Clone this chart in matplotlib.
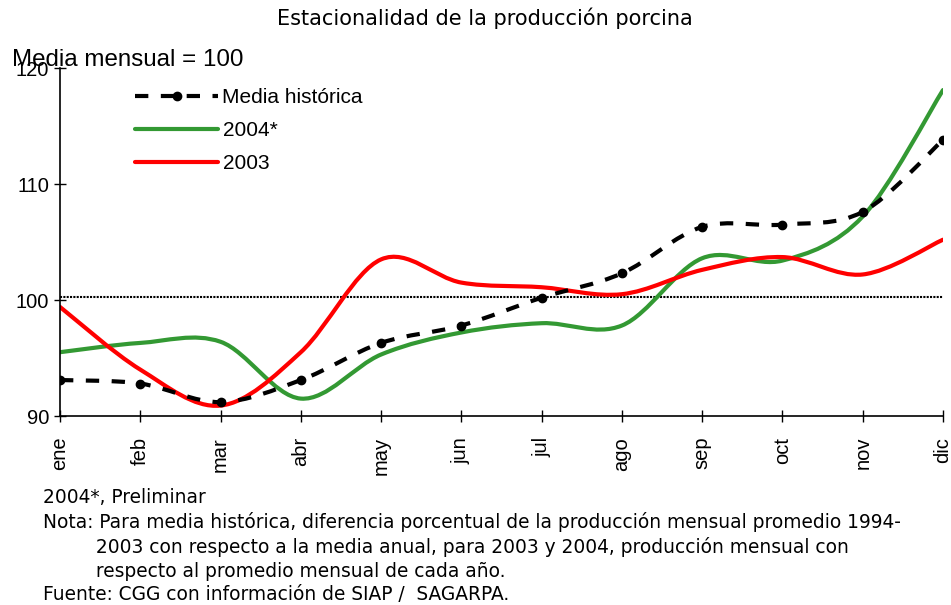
import matplotlib
matplotlib.use("Agg")
import matplotlib.pyplot as plt
from matplotlib.path import Path
from matplotlib.patches import PathPatch
from matplotlib.lines import Line2D
import numpy as np

meses = ['ene', 'feb', 'mar', 'abr', 'may', 'jun', 'jul', 'ago', 'sep', 'oct', 'nov', 'dic']
media_hist = [93.1, 92.8, 91.2, 93.1, 96.3, 97.8, 100.2, 102.3, 106.3, 106.5, 107.6, 113.8]
p2004 = [95.5, 96.3, 96.4, 91.5, 95.3, 97.2, 98.0, 97.8, 103.6, 103.4, 107.2, 118.1]
p2003 = [99.4, 94.0, 90.9, 95.5, 103.5, 101.5, 101.1, 100.5, 102.6, 103.7, 102.2, 105.2]
linea_base = 100.3

plt.rcParams['font.family'] = ['Liberation Sans', 'DejaVu Sans']


def smooth_path(xs, ys):
    # Bezier segments through the points (like Excel's smoothed line)
    pts = np.column_stack([xs, ys]).astype(float)
    n = len(pts)
    verts = [pts[0]]
    codes = [Path.MOVETO]
    for i in range(n - 1):
        p0 = pts[max(i - 1, 0)]
        p1 = pts[i]
        p2 = pts[i + 1]
        p3 = pts[min(i + 2, n - 1)]
        c1 = p1 + (p2 - p0) / 6.0
        c2 = p2 - (p3 - p1) / 6.0
        verts += [c1, c2, p2]
        codes += [Path.CURVE4] * 3
    return Path(verts, codes)


fig = plt.figure(figsize=(9.51, 6.05), dpi=100)
ax = fig.add_axes([60 / 951, 1 - 416 / 605, 883 / 951, 348 / 605])
x = np.arange(len(meses))

ax.axhline(linea_base, color='k', lw=1.5, ls=(0, (1, 0.6)), zorder=1)

lw = 3.0
verde = '#339933'
rojo = '#ff0000'
ax.add_patch(PathPatch(smooth_path(x, media_hist), fill=False, ec='k', lw=lw,
                       ls=(0, (3.2, 3.0)), capstyle='butt', zorder=3))
ax.plot(x, media_hist, 'o', color='k', ms=6, zorder=3)
ax.add_patch(PathPatch(smooth_path(x, p2004), fill=False, ec=verde, lw=lw,
                       capstyle='round', zorder=2))
ax.add_patch(PathPatch(smooth_path(x, p2003), fill=False, ec=rojo, lw=lw,
                       capstyle='round', zorder=2))

ax.set_xlim(0, 11)
ax.set_ylim(90, 120)
ax.set_yticks([90, 100, 110, 120])
ax.set_xticks(x)
ax.set_xticklabels(meses, rotation=90)
ax.tick_params(direction='inout', length=8, width=1, labelsize=14.5, pad=4)
ax.tick_params(axis='x', pad=11)
for s in ['top', 'right']:
    ax.spines[s].set_visible(False)
for s in ['left', 'bottom']:
    ax.spines[s].set_linewidth(1.2)

handles = [
    Line2D([], [], color='k', lw=lw, ls=(0, (3.2, 3.0)), marker='o', ms=6),
    Line2D([], [], color=verde, lw=lw, solid_capstyle='round'),
    Line2D([], [], color=rojo, lw=lw, solid_capstyle='round'),
]
fig.legend(handles, ['Media histórica', '2004*', '2003'], loc='upper left',
           bbox_to_anchor=(135 / 951, 1 - 88 / 605), frameon=False,
           fontsize=15, handlelength=4.0, handletextpad=0.2,
           labelspacing=0.68, borderpad=0, borderaxespad=0, numpoints=1)

fig.text(485 / 951, 1 - 18 / 605, 'Estacionalidad de la producción porcina',
         ha='center', va='center', fontsize=15, family=['DejaVu Sans'])
fig.text(12 / 951, 1 - 60 / 605, 'Media mensual = 100', ha='left', va='center',
         fontsize=17.4)

notas = ('2004*, Preliminar\n'
         'Nota: Para media histórica, diferencia porcentual de la producción mensual promedio 1994-\n'
         '         2003 con respecto a la media anual, para 2003 y 2004, producción mensual con\n'
         '         respecto al promedio mensual de cada año.\n'
         'Fuente: CGG con información de SIAP /  SAGARPA.')
fig.text(43 / 951, 1 - 488 / 605, notas, ha='left', va='top', fontsize=13.4,
         linespacing=1.31, family=['DejaVu Sans'])

fig.savefig('out.png', dpi=100)
